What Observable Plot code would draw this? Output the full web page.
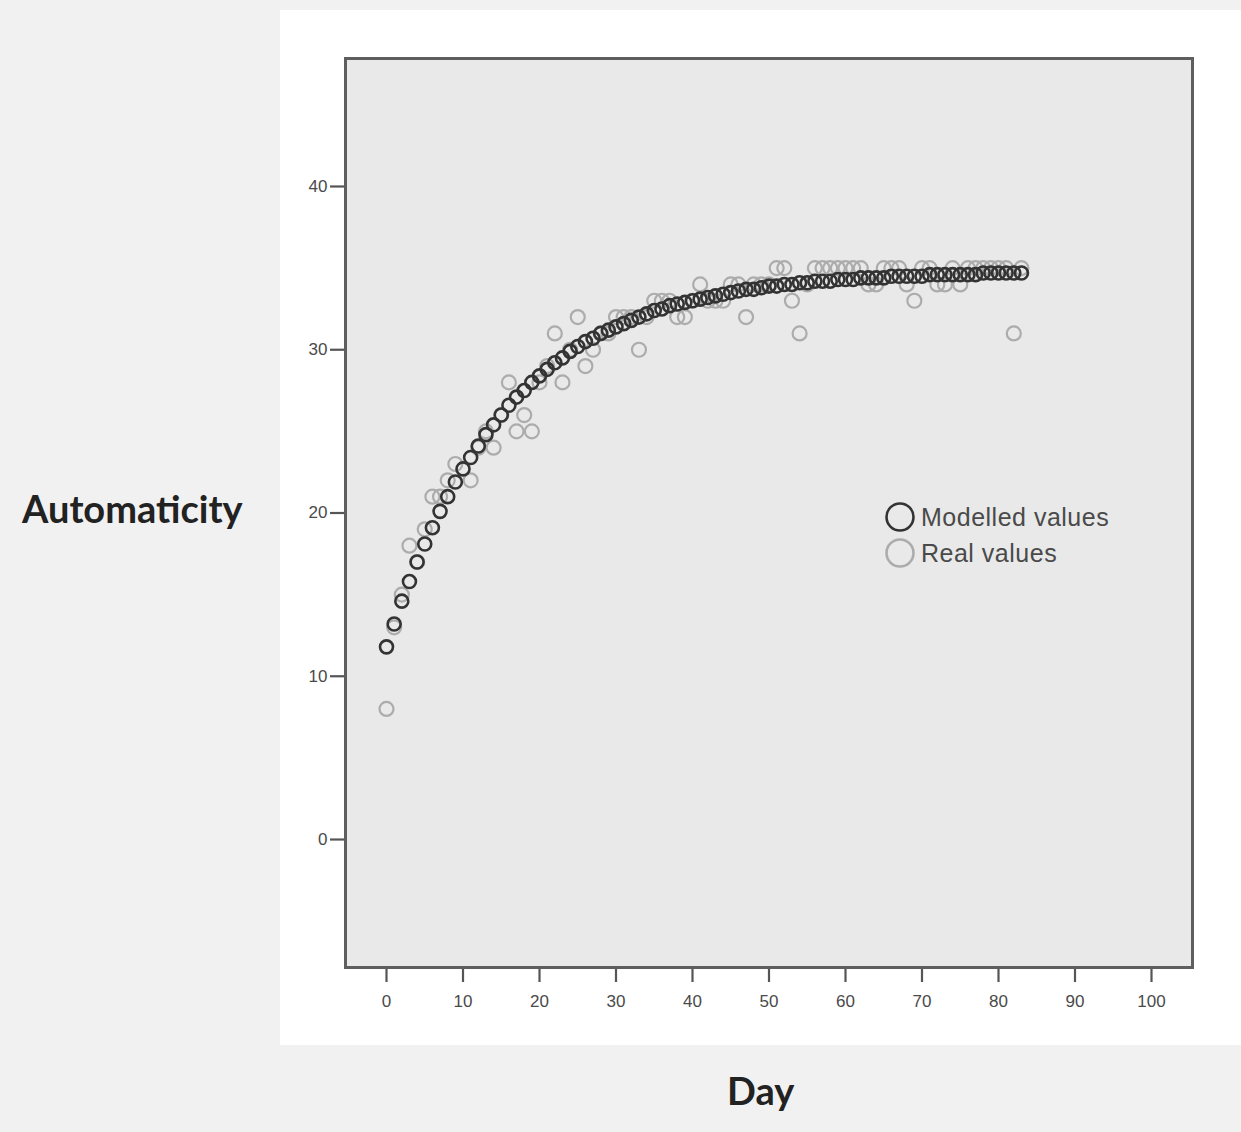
<!DOCTYPE html>
<html>
<head>
<meta charset="utf-8">
<script src="https://cdn.jsdelivr.net/npm/d3@7"></script>
<script src="https://cdn.jsdelivr.net/npm/@observablehq/plot@0.6"></script>
<style>
  html, body { margin: 0; padding: 0; background: #f1f1f1; }
  #wrap { position: relative; width: 1241px; height: 1132px; overflow: hidden; }
  #panel { position: absolute; left: 280px; top: 10px; width: 961px; height: 1035px; background: #ffffff; }
  #chart { position: absolute; left: 0; top: 0; }
  .lab { position: absolute; font-family: Lato, "Open Sans", sans-serif; color: #222; font-size: 38px; font-weight: bold; line-height: 40px; }
  #ylab { left: 22px; top: 488px; }
  #xlab { left: 727px; top: 1070px; }
  #legend { position: absolute; left: 884px; top: 499px; font-family: "Liberation Sans", Arial, sans-serif; font-size: 25px; color: #4a4a4a; line-height: 36px; letter-spacing: 0.5px; }
  #legend div { display: flex; align-items: center; height: 36px; }
  #legend svg { margin-right: 5px; }
</style>
</head>
<body>
<div id="wrap">
  <div id="panel"></div>
  <div id="chart"></div>
  <div class="lab" id="ylab">Automaticity</div>
  <div class="lab" id="xlab">Day</div>
  <div id="legend"></div>
</div>
<script>
// Modelled values (one per day, day 0..83)
const modelledDays = d3.range(0, 84);
const modelledValues = [
  11.8, 13.2, 14.6, 15.8, 17.0, 18.1, 19.1, 20.1, 21.0, 21.9,
  22.7, 23.4, 24.1, 24.8, 25.4, 26.0, 26.6, 27.1, 27.5, 28.0,
  28.4, 28.8, 29.2, 29.5, 29.9, 30.2, 30.5, 30.7, 31.0, 31.2,
  31.4, 31.6, 31.8, 32.0, 32.2, 32.4, 32.5, 32.7, 32.8, 32.9,
  33.0, 33.1, 33.2, 33.3, 33.4, 33.5, 33.6, 33.7, 33.7, 33.8,
  33.9, 33.9, 34.0, 34.0, 34.1, 34.1, 34.2, 34.2, 34.2, 34.3,
  34.3, 34.3, 34.4, 34.4, 34.4, 34.4, 34.5, 34.5, 34.5, 34.5,
  34.5, 34.6, 34.6, 34.6, 34.6, 34.6, 34.6, 34.6, 34.7, 34.7,
  34.7, 34.7, 34.7, 34.7
];
// Real values (day, automaticity)
const realDays = [
  0, 1, 2, 3, 4, 5, 6, 7, 8, 9, 11, 12, 13, 14, 15, 16, 17, 18, 19, 20,
  21, 22, 23, 24, 25, 26, 27, 28, 29, 30, 31, 32, 33, 34, 35, 36, 37, 38, 39, 40,
  41, 42, 43, 44, 45, 46, 47, 48, 49, 50, 51, 52, 53, 54, 55, 56, 57, 58, 59, 60,
  61, 62, 63, 64, 65, 66, 67, 68, 69, 70, 71, 72, 73, 74, 75, 76, 77, 78, 79, 80,
  81, 82, 83
];
const realValues = [
  8, 13, 15, 18, 17, 19, 21, 21, 22, 23, 22, 24, 25, 24, 26, 28, 25, 26, 25, 28,
  29, 31, 28, 30, 32, 29, 30, 31, 31, 32, 32, 32, 30, 32, 33, 33, 33, 32, 32, 33,
  34, 33, 33, 33, 34, 34, 32, 34, 34, 34, 35, 35, 33, 31, 34, 35, 35, 35, 35, 35,
  35, 35, 34, 34, 35, 35, 35, 34, 33, 35, 35, 34, 34, 35, 34, 35, 35, 35, 35, 35,
  35, 31, 35
];
const xTicks = [0, 10, 20, 30, 40, 50, 60, 70, 80, 90, 100];
const yTicks = [0, 10, 20, 30, 40];
const legendLabels = ["Modelled values", "Real values"];

const modelled = modelledDays.map((d, i) => ({day: d, value: modelledValues[i]}));
const real = realDays.map((d, i) => ({day: d, value: realValues[i]}));

const chart = Plot.plot({
  width: 1241,
  height: 1132,
  marginLeft: 345,
  marginRight: 49,
  marginTop: 58,
  marginBottom: 165,
  style: { background: "transparent", fontFamily: "'Liberation Sans', Arial, sans-serif", fontSize: "17px", color: "#4a4a4a" },
  x: { domain: [-5.36, 105.36], ticks: xTicks, label: null },
  y: { domain: [-7.84, 47.84], ticks: yTicks, label: null },
  marks: [
    Plot.frame({ fill: "#e9e9e9", stroke: "none" }),
    Plot.axisX({ ticks: xTicks, tickSize: 15, tickPadding: 12, stroke: "#555", strokeWidth: 2.2, fill: "#4a4a4a", fontSize: 17, label: null }),
    Plot.axisY({ ticks: yTicks, tickSize: 15, tickPadding: 3, stroke: "#555", strokeWidth: 2.2, fill: "#4a4a4a", fontSize: 17, label: null }),
    Plot.dot(real, { x: "day", y: "value", r: 7, stroke: "#acacac", strokeWidth: 2.2, fill: "none" }),
    Plot.dot(modelled, { x: "day", y: "value", r: 6.5, stroke: "#333333", strokeWidth: 2.6, fill: "none" }),
    Plot.frame({ stroke: "#5e5e5e", strokeWidth: 3 })
  ]
});
document.getElementById("chart").appendChild(chart);

// Legend
const legend = document.getElementById("legend");
const legendColors = ["#333333", "#acacac"];
legendLabels.forEach((t, i) => {
  const row = document.createElement("div");
  row.innerHTML = `<svg width="32" height="32"><circle cx="16" cy="16" r="13.5" fill="none" stroke="${legendColors[i]}" stroke-width="2.6"/></svg><span>${t}</span>`;
  legend.appendChild(row);
});
</script>
</body>
</html>
